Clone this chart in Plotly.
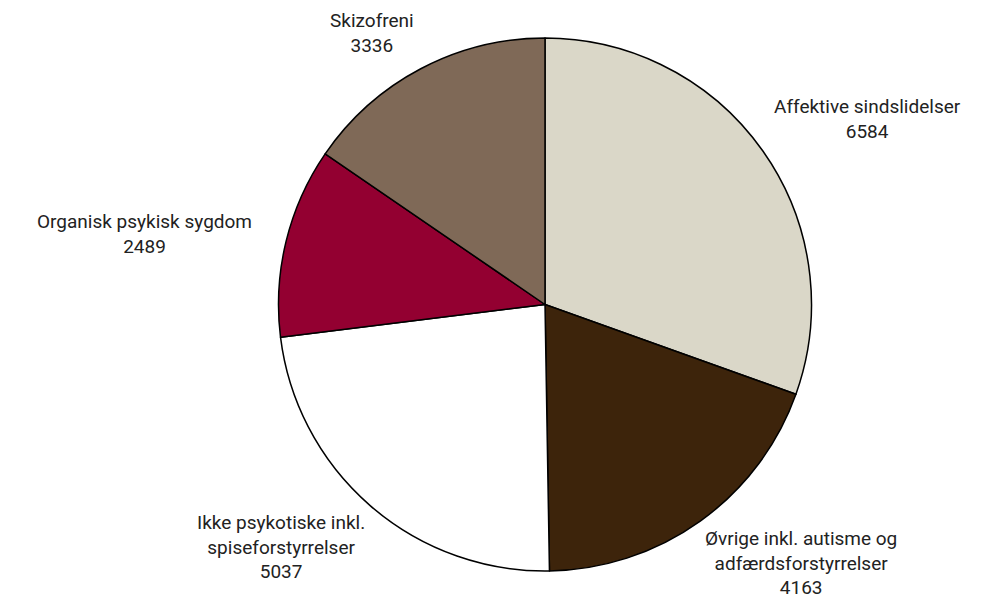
import math
import plotly.graph_objects as go

labels = ["Affektive sindslidelser", "Øvrige inkl. autisme og<br>adfærdsforstyrrelser",
          "Ikke psykotiske inkl.<br>spiseforstyrrelser", "Organisk psykisk sygdom", "Skizofreni"]
values = [6584, 4163, 5037, 2489, 3336]
colors = ["#DAD7C8", "#3D240B", "#FFFFFF", "#930031", "#7F6957"]

W, H = 990, 598
MT, MB = 38, 27
CX = 545.0
R = (H - MT - MB) / 2.0
CY = MT + R

fig = go.Figure(go.Pie(
    labels=labels, values=values, sort=False, direction="clockwise", rotation=0,
    marker=dict(colors=colors, line=dict(color="#000000", width=1.5)),
    textinfo="none", hoverinfo="label+value", showlegend=False,
    domain=dict(x=[(CX - R) / W, (CX + R) / W], y=[0, 1]),
))

# label annotations placed along each slice's mid-angle, just outside the rim
total = sum(values)
start = 90.0
for lab, val in zip(labels, values):
    sweep = val / total * 360.0
    mid = math.radians(start - sweep / 2.0)
    start -= sweep
    c, s = math.cos(mid), math.sin(mid)
    gap = 11.0 if s > 0 else 5.0
    xa = "left" if c > 0.3 else ("right" if c < -0.3 else "center")
    ya = "bottom" if s > 0.3 else ("top" if s < -0.3 else "middle")
    if ya == "middle":
        gap += 22
    px = CX + (R + gap) * c
    py = CY - (R + gap) * s
    fig.add_annotation(
        x=px / W, y=(H - MB - py) / (H - MT - MB), xref="paper", yref="paper",
        text=f"{lab}<br>{val}", showarrow=False, xanchor=xa, yanchor=ya, align="center",
        font=dict(family="Roboto", size=19, color="#222222"),
    )

fig.update_layout(
    width=W, height=H,
    margin=dict(l=0, r=0, t=MT, b=MB),
    paper_bgcolor="white", plot_bgcolor="white",
)
fig.write_html("out.html", config={"displayModeBar": False},
               post_script="document.body.style.margin='0px';document.body.style.overflow='hidden';")
